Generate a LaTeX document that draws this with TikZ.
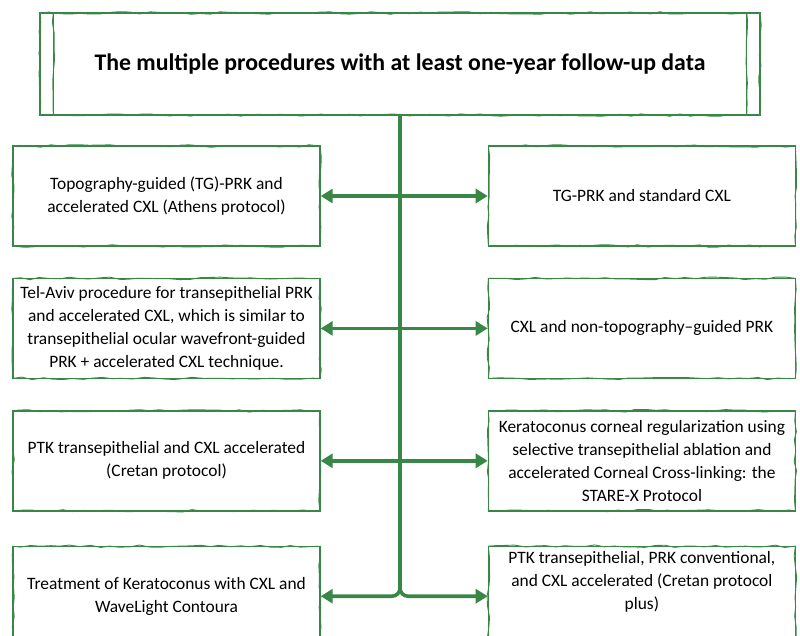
\documentclass[tikz,border=0pt]{standalone}
\usepackage{fontspec}
\setmainfont{Carlito}
\usetikzlibrary{arrows.meta,positioning,decorations.pathmorphing}
\definecolor{cproc}{HTML}{388746}

\begin{document}
\pgfmathsetseed{11}
\begin{tikzpicture}[x=1pt,y=-1pt,
    >={Triangle[length=12pt,width=14pt]},
    sk/.style={postaction={draw=cproc,line width=0.9pt,decorate,
      decoration={random steps,segment length=10pt,amplitude=1.3pt}}},
    b/.style={draw=cproc,line width=1.4pt,sk,minimum width=307pt,minimum height=100pt,
      align=center,font=\fontsize{17.4}{23}\selectfont},
    link/.style={draw=cproc,line width=3.6pt},
    node distance=31pt and 167pt]
    \useasboundingbox (0,0) rectangle (800,635);
    \node[draw=cproc,line width=1.4pt,sk,minimum width=720pt,minimum height=102pt,
      font=\bfseries\fontsize{23.8}{28}\selectfont] (title) at (400,64)
      {The multiple procedures with at least one-year follow-up data};
    \draw[cproc,line width=1.2pt,sk] ([xshift=14pt]title.north west) -- ([xshift=14pt]title.south west);
    \draw[cproc,line width=1.2pt,sk] ([xshift=-14pt]title.north east) -- ([xshift=-14pt]title.south east);

    \node[b] (l1) at (166.5,196) {Topography-guided (TG)-PRK and\\accelerated CXL (Athens protocol)};
    \node[b,right=of l1] (r1) {TG-PRK and standard CXL};
    \node[b,below=of l1] (l2) {Tel-Aviv procedure for transepithelial PRK\\and accelerated CXL, which is similar to\\transepithelial ocular wavefront-guided\\PRK + accelerated CXL technique.};
    \node[b,right=of l2] (r2) {CXL and non-topography--guided PRK};
    \node[b,below=of l2] (l3) {PTK transepithelial and CXL accelerated\\(Cretan protocol)};
    \node[b,right=of l3] (r3) {Keratoconus corneal regularization using\\selective transepithelial ablation and\\accelerated Corneal Cross-linking: the\\STARE-X Protocol};
    \node[b,below=34pt of l3] (l4) {Treatment of Keratoconus with CXL and\\WaveLight Contoura};
    \node[b,right=of l4] (r4) {PTK transepithelial, PRK conventional,\\and CXL accelerated (Cretan protocol\\plus)\\[9pt]~};

    \draw[link,<->] (l1.east) -- (r1.west);
    \draw[link,<->] (l2.east) -- (r2.west);
    \draw[link,<->] (l3.east) -- (r3.west);
    \draw[link,->,rounded corners=8pt] (title.south) |- (l4.east);
    \draw[link,->,rounded corners=8pt] (title.south) |- (r4.west);
  \end{tikzpicture}
\end{document}
